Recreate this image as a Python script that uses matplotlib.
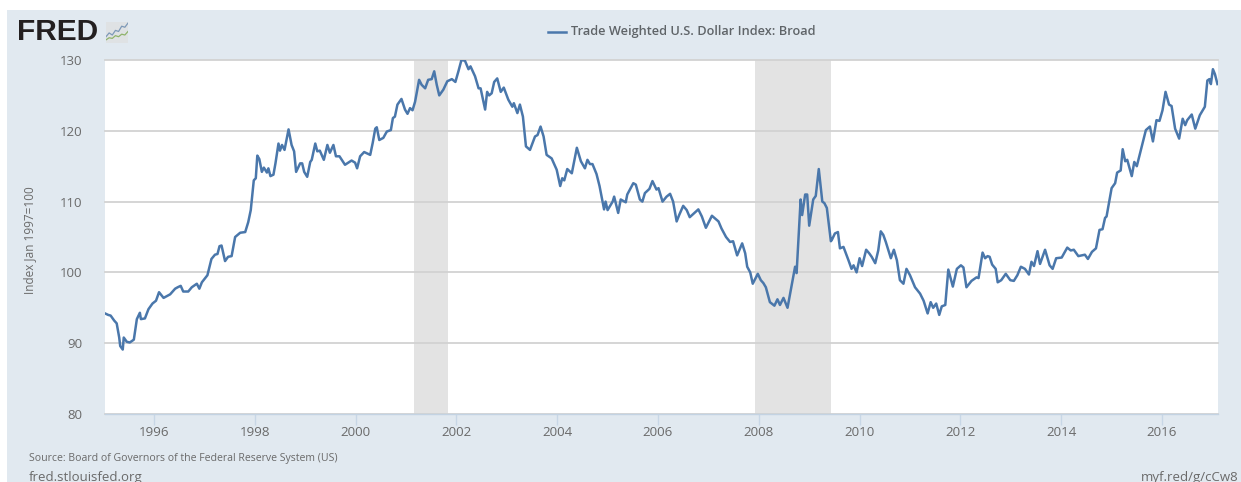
import matplotlib
matplotlib.use("Agg")
import matplotlib.pyplot as plt
from matplotlib.patches import Rectangle

W, H = 1241, 482

years_a = [1995.03,1995.09,1995.14,1995.21,1995.26,1995.31,1995.33,1995.38,1995.40,1995.46,1995.52,1995.60,1995.66,1995.72,1995.74,1995.82,1995.89,1995.97,1996.04,1996.10,1996.19,1996.32,1996.42,1996.47,1996.53,1996.58,1996.68,1996.75,1996.85,1996.90,1996.95,1997.06,1997.14,1997.21,1997.26,1997.30,1997.34,1997.41,1997.47,1997.54,1997.61,1997.71,1997.81,1997.87,1997.92,1997.98,1998.02,1998.05,1998.09,1998.14,1998.18,1998.24,1998.27,1998.31,1998.37,1998.41,1998.47,1998.50,1998.54,1998.59,1998.67,1998.73,1998.78,1998.82,1998.90,1998.94,1998.98,1999.04,1999.10,1999.13,1999.20,1999.24,1999.29,1999.37,1999.44,1999.49,1999.56,1999.61,1999.68,1999.79,1999.92,1999.99,2000.03,2000.09]
index_a = [94.2,94.0,93.9,93.2,92.8,90.8,89.6,89.1,90.8,90.2,90.1,90.5,93.4,94.3,93.4,93.5,94.8,95.6,96.0,97.2,96.4,96.9,97.7,97.9,98.1,97.3,97.3,97.9,98.4,97.7,98.6,99.6,101.9,102.5,102.6,103.7,103.8,101.6,102.2,102.3,105.0,105.6,105.7,107.1,108.8,113.0,113.3,116.5,116.0,114.2,114.8,114.1,114.7,113.6,113.8,115.4,118.2,117.2,118.0,117.3,120.2,118.0,117.1,114.2,115.4,115.4,114.2,113.5,115.6,115.9,118.2,117.1,117.2,115.9,118.0,116.9,118.0,116.4,116.4,115.2,115.8,115.5,114.7,116.4]

years_b = [2000.17,2000.29,2000.34,2000.39,2000.42,2000.47,2000.55,2000.62,2000.70,2000.74,2000.78,2000.83,2000.91,2000.98,2001.03,2001.08,2001.13,2001.18,2001.26,2001.31,2001.38,2001.44,2001.51,2001.56,2001.61,2001.66,2001.74,2001.82,2001.91,2001.98,2002.04,2002.10,2002.17,2002.24,2002.28,2002.37,2002.44,2002.48,2002.57,2002.61,2002.65,2002.70,2002.75,2002.81,2002.88,2002.94,2003.03,2003.11,2003.14,2003.21,2003.26,2003.32,2003.38,2003.46,2003.56,2003.61,2003.67,2003.73,2003.79,2003.89,2003.99,2004.06,2004.10,2004.14,2004.20,2004.29,2004.39,2004.47,2004.55,2004.60]
index_b = [117.0,116.6,118.3,120.3,120.5,118.7,119.0,119.9,120.1,121.8,122.0,123.7,124.5,123.0,122.4,123.2,122.9,124.1,127.2,126.5,126.0,127.2,127.3,128.4,126.5,125.0,125.8,127.0,127.3,126.9,128.4,130.0,129.9,128.7,129.1,127.7,126.0,126.0,123.0,125.5,125.0,125.3,126.9,127.4,125.5,126.1,124.4,123.4,123.9,122.5,123.7,122.0,117.8,117.3,119.2,119.4,120.6,119.2,116.6,116.1,114.5,112.2,113.3,113.0,114.6,114.0,117.6,115.7,114.7,115.9]

years_c = [2004.65,2004.70,2004.78,2004.84,2004.93,2004.96,2005.00,2005.10,2005.13,2005.21,2005.26,2005.36,2005.39,2005.51,2005.56,2005.64,2005.69,2005.74,2005.83,2005.89,2005.97,2006.01,2006.09,2006.17,2006.24,2006.30,2006.37,2006.42,2006.50,2006.57,2006.63,2006.80,2006.87,2006.95,2007.07,2007.20,2007.26,2007.35,2007.43,2007.49,2007.57,2007.67,2007.73,2007.77,2007.83,2007.88,2007.98,2008.04,2008.09,2008.14,2008.22,2008.31,2008.37,2008.42,2008.49,2008.57,2008.65,2008.72,2008.75,2008.83,2008.86,2008.92,2008.96,2009.00,2009.08,2009.13,2009.19,2009.26,2009.30,2009.35,2009.43]
index_c = [115.3,115.3,113.9,112.2,108.9,110.0,108.8,110.0,110.7,108.4,110.3,109.9,111.0,112.6,112.4,110.3,110.0,111.2,111.8,112.9,111.7,111.9,110.0,110.7,111.1,110.0,107.2,108.1,109.4,108.8,107.8,108.9,107.9,106.3,108.0,107.2,106.2,105.0,104.3,104.4,102.4,104.1,102.7,100.8,100.0,98.4,99.8,98.9,98.5,97.9,95.8,95.3,96.2,95.4,96.4,95.0,98.1,100.8,99.9,110.3,108.1,111.0,111.0,106.6,110.3,110.8,114.6,110.0,109.8,109.1,104.4]

years_d = [2009.45,2009.51,2009.57,2009.61,2009.68,2009.78,2009.84,2009.88,2009.94,2010.00,2010.05,2010.13,2010.19,2010.24,2010.31,2010.37,2010.42,2010.47,2010.52,2010.62,2010.68,2010.74,2010.80,2010.87,2010.93,2011.00,2011.10,2011.20,2011.27,2011.35,2011.41,2011.46,2011.52,2011.58,2011.63,2011.70,2011.76,2011.85,2011.93,2012.01,2012.06,2012.12,2012.22,2012.32,2012.36,2012.44,2012.49,2012.54,2012.58,2012.63,2012.70,2012.74,2012.81,2012.90,2012.99,2013.06,2013.13,2013.20,2013.28,2013.36,2013.41,2013.46,2013.53,2013.58,2013.68,2013.77,2013.83,2013.90,2014.01,2014.12,2014.19,2014.25,2014.34,2014.47,2014.53,2014.61,2014.69,2014.76,2014.82,2014.87,2014.90]
index_d = [104.6,105.5,105.7,103.4,103.6,101.7,100.5,101.0,100.0,102.0,100.9,103.2,102.7,102.2,101.3,103.1,105.8,105.3,104.3,102.0,103.2,101.7,98.9,98.4,100.5,99.6,97.9,97.0,96.0,94.2,95.8,95.0,95.6,94.0,95.2,95.4,100.4,98.0,100.5,101.0,100.7,97.9,98.8,99.3,99.2,102.8,102.0,102.3,102.2,101.1,100.5,98.6,98.9,99.8,98.9,98.8,99.6,100.8,100.5,99.7,101.5,100.9,103.0,101.2,103.2,101.0,100.5,102.0,102.1,103.5,103.1,103.2,102.3,102.5,101.9,102.9,103.4,106.0,106.1,107.7,107.9]

years_e = [2015.00,2015.07,2015.11,2015.18,2015.22,2015.27,2015.31,2015.40,2015.45,2015.50,2015.60,2015.68,2015.76,2015.82,2015.89,2015.95,2016.01,2016.07,2016.14,2016.19,2016.26,2016.34,2016.41,2016.46,2016.50,2016.59,2016.66,2016.75,2016.85,2016.90,2016.94,2016.97,2017.01,2017.05,2017.10]
index_e = [111.9,112.6,114.1,114.4,117.4,115.7,115.9,113.6,115.6,115.0,117.8,120.1,120.6,118.5,121.5,121.4,122.9,125.5,123.7,123.5,120.3,118.9,121.7,120.8,121.5,122.3,120.3,122.2,123.4,127.1,127.3,126.6,128.7,128.0,126.6]

recessions = [(2001.16, 2001.83), (2007.92, 2009.43)]
y_ticks = [80, 90, 100, 110, 120, 130]
x_ticks = list(range(1996, 2018, 2))

logo_blue = [0.30, 0.48, 0.38, 0.60, 0.55, 0.80, 0.75, 0.95]
logo_green = [0.15, 0.25, 0.22, 0.35, 0.30, 0.42, 0.38, 0.55]

years = years_a + years_b + years_c + years_d + years_e
index = index_a + index_b + index_c + index_d + index_e

plt.rcParams["font.family"] = ["Open Sans", "DejaVu Sans"]
PANEL = "#e1e9f0"
TXT = "#6a6a6a"
LINE = "#4a77ab"

fig = plt.figure(figsize=(W / 100, H / 100), dpi=100, facecolor="white")
def fx(x): return x / W
def fy(y): return 1 - y / H

fig.add_artist(Rectangle((fx(7), 0), 1 - fx(7), fy(10), transform=fig.transFigure,
                         facecolor=PANEL, edgecolor="none", zorder=-5))

ax = fig.add_axes([fx(105), fy(414), (1218 - 105) / W, (414 - 60) / H])
ax.set_xlim(1995.028, 2017.111)
ax.set_ylim(80, 130)
ax.set_facecolor("white")
for s in ("left", "right", "top"):
    ax.spines[s].set_visible(False)
ax.spines["bottom"].set_color("#c3d3e3")
ax.spines["bottom"].set_linewidth(1.0)

ax.set_yticks(y_ticks)
ax.set_xticks(x_ticks[:-1] if x_ticks[-1] > 2017 else x_ticks)
ax.tick_params(axis="y", length=0, pad=16, labelsize=9.5, labelcolor=TXT)
ax.tick_params(axis="x", length=8, width=1, color="#c8d7e6", pad=0.5,
               labelsize=9.6, labelcolor=TXT)
ax.grid(axis="y", color="#d2d2d2", linewidth=1.3, zorder=1, clip_on=False)
ax.grid(axis="x", visible=False)
ax.set_axisbelow(True)

for start, end in recessions:
    ax.axvspan(start, end, facecolor="#d9d9d9", alpha=0.72, edgecolor="none", zorder=0.5)

ax.plot(years, index, color=LINE, linewidth=1.8, solid_joinstyle="round", zorder=3)

fig.text(fx(30), fy(240), "Index Jan 1997=100", rotation=90, ha="center", va="center",
         fontsize=8.5, color=TXT)

# header
fig.text(fx(17), fy(32.5), "FRED", fontsize=21.5, fontweight="bold", family=["Liberation Sans"],
         color="#231f20", ha="left", va="center")
logo = fig.add_axes([fx(106), fy(43), 22 / W, 21 / H])
logo.set_xlim(0, 1); logo.set_ylim(0, 1)
logo.set_facecolor("#dfe2e4")
logo.set_xticks([]); logo.set_yticks([])
for s in logo.spines.values():
    s.set_visible(False)
lx = [i / 7 for i in range(8)]
logo.plot(lx, logo_blue, color="#7d99b8", lw=0.9)
logo.plot(lx, logo_green, color="#8fb36b", lw=0.9)

fig.add_artist(plt.Line2D([fx(548), fx(566)], [fy(32), fy(32)], color=LINE, lw=1.8,
                          transform=fig.transFigure))
fig.text(fx(571), fy(32), "Trade Weighted U.S. Dollar Index: Broad", fontsize=9.2,
         fontweight="semibold", color="#5f6468", ha="left", va="center")

# footer
fig.text(fx(29), fy(458), "Source: Board of Governors of the Federal Reserve System (US)",
         fontsize=7.6, color=TXT, ha="left", va="center")
fig.text(fx(29), fy(477.5), "fred.stlouisfed.org", fontsize=9.5, color=TXT, ha="left", va="center")
fig.text(fx(1141), fy(477.5), "myf.red/g/cCw8", fontsize=9.5, color=TXT, ha="left", va="center")

fig.savefig("out.png", dpi=100, facecolor="white")
